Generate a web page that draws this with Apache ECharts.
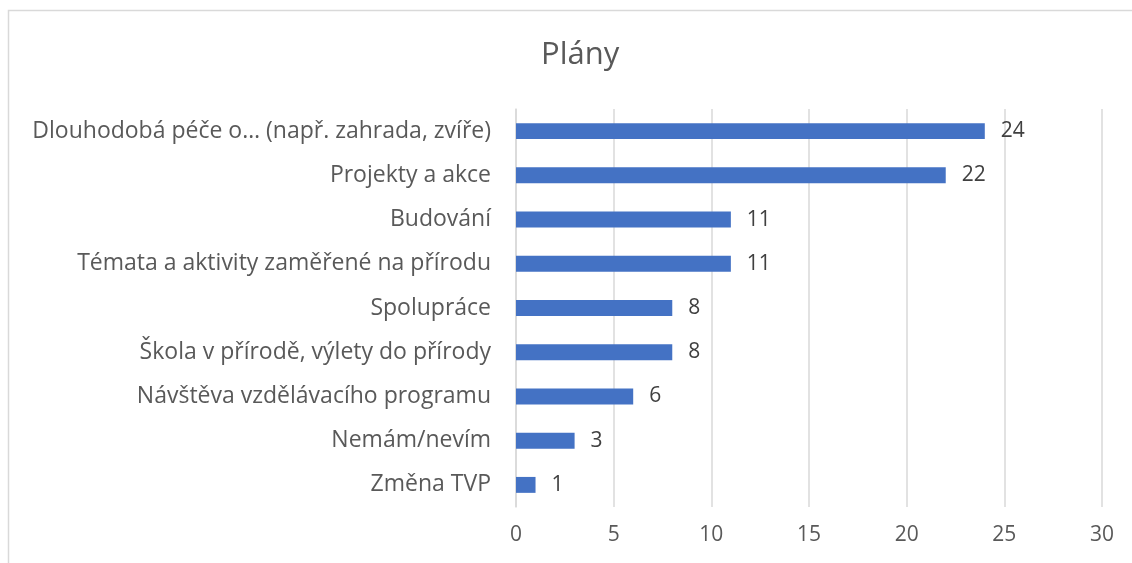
<!DOCTYPE html>
<html>
<head>
<meta charset="utf-8">
<script src="https://cdn.jsdelivr.net/npm/echarts@6/dist/echarts.min.js"></script>
<style>
  html, body { margin: 0; padding: 0; background: #fff; }
  #main { width: 1132px; height: 563px; }
</style>
</head>
<body>
<div id="main"></div>
<script>
// categories listed bottom -> top (ECharts category axis order)
var categories = [
  'Změna TVP',
  'Nemám/nevím',
  'Návštěva vzdělávacího programu',
  'Škola v přírodě, výlety do přírody',
  'Spolupráce',
  'Témata a aktivity zaměřené na přírodu',
  'Budování',
  'Projekty a akce',
  'Dlouhodobá péče o… (např. zahrada, zvíře)'
];
var values = [1, 3, 6, 8, 8, 11, 11, 22, 24];
var xTicks = [0, 5, 10, 15, 20, 25, 30];

var chart = echarts.init(document.getElementById('main'));
var font = '"Open Sans", "Noto Sans", sans-serif';

var option = {
  backgroundColor: '#fff',
  animation: false,
  textStyle: { fontFamily: font },
  title: {
    text: 'Plány',
    left: 536,
    top: 35,
    textStyle: { fontFamily: font, fontSize: 31, fontWeight: 'normal', color: '#595959' }
  },
  graphic: [{
    type: 'rect',
    shape: { x: 8.5, y: 10.5, width: 1140, height: 570 },
    style: { fill: 'none', stroke: '#d9d9d9', lineWidth: 1.5 },
    silent: true
  }],
  grid: { left: 516, right: 30, top: 109, bottom: 56 },
  xAxis: {
    type: 'value',
    min: xTicks[0],
    max: xTicks[xTicks.length - 1],
    interval: 5,
    axisLine: { show: false },
    axisTick: { show: false },
    axisLabel: { color: '#595959', fontSize: 21, margin: 18, fontFamily: font },
    splitLine: { lineStyle: { color: '#d9d9d9', width: 1.5 } }
  },
  yAxis: {
    type: 'category',
    data: categories,
    axisLine: { show: true, lineStyle: { color: '#d9d9d9', width: 1.5 } },
    axisTick: { show: false },
    axisLabel: { color: '#595959', fontSize: 23, margin: 25, fontFamily: font }
  },
  series: [{
    type: 'bar',
    data: values,
    barWidth: '36%',
    itemStyle: { color: '#4472C4' },
    label: {
      show: true,
      position: 'right',
      distance: 16,
      color: '#404040',
      fontSize: 21,
      fontFamily: font
    }
  }]
};
chart.setOption(option);
</script>
</body>
</html>
